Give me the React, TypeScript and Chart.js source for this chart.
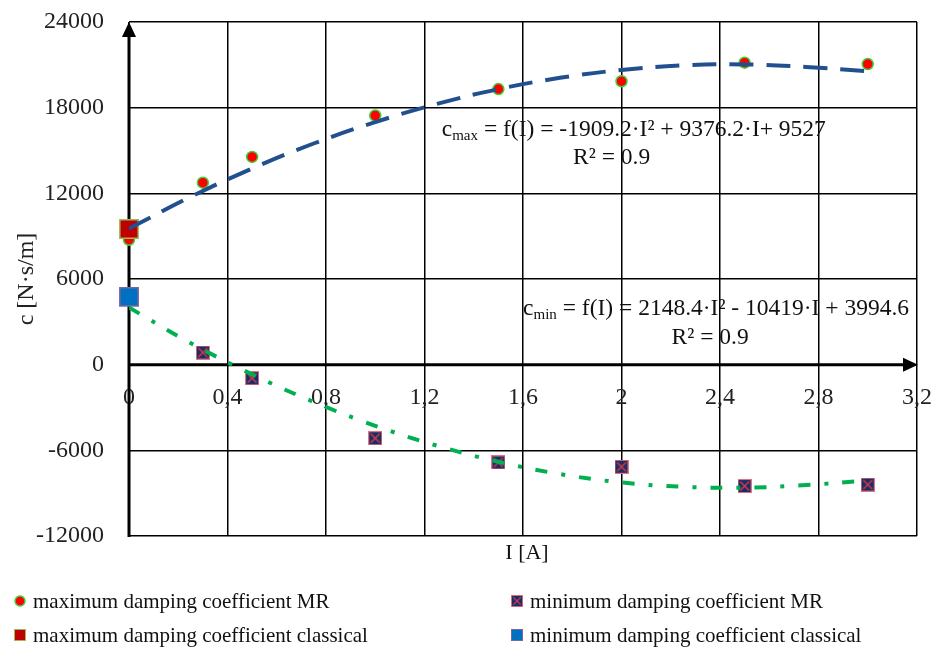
import { useEffect, useRef } from "react";
import { Chart, registerables } from "chart.js";

Chart.register(...registerables);

// ---- data ----
const currentMaxMR = [0, 0.3, 0.5, 1.0, 1.5, 2.0, 2.5, 3.0];
const maxMR = [8750, 12750, 14550, 17450, 19300, 19850, 21150, 21050];
const currentMinMR = [0.3, 0.5, 1.0, 1.5, 2.0, 2.5, 3.0];
const minMR = [850, -950, -5150, -6850, -7150, -8500, -8400];
const currentClassical = [0];
const maxClassical = [9500];
const minClassical = [4750];

const trendCurrent = [0, 0.25, 0.5, 0.75, 1.0, 1.25, 1.5, 1.75, 2.0, 2.25, 2.5, 2.75, 3.0];
const trendMax = [9530, 11750, 13740, 15490, 16990, 18260, 19300, 20090, 20640, 20960, 21030, 20850, 20550];
const trendMin = [4000, 1520, -680, -2610, -4280, -5670, -6800, -7660, -8250, -8550, -8620, -8430, -8120];

const xTickValues = [0, 0.4, 0.8, 1.2, 1.6, 2.0, 2.4, 2.8, 3.2];
const xTickLabels = ["0", "0,4", "0,8", "1,2", "1,6", "2", "2,4", "2,8", "3,2"];
const yTickValues = [-12000, -6000, 0, 6000, 12000, 18000, 24000];
const yTickLabels = ["-12000", "-6000", "0", "6000", "12000", "18000", "24000"];

const seriesLabels = [
  "maximum damping coefficient MR",
  "minimum damping coefficient MR",
  "maximum damping coefficient classical",
  "minimum damping coefficient classical",
];
const xTitle = "I [A]";
const yTitle = "c [N·s/m]";
const eqMaxText = { sub: "max", rest: " = f(I) = -1909.2·I² + 9376.2·I+ 9527", r2: "R² = 0.9" };
const eqMinText = { sub: "min", rest: " = f(I) = 2148.4·I² - 10419·I + 3994.6", r2: "R² = 0.9" };

const FONT = '"Liberation Serif", "Times New Roman", serif';

function makeXSquare(size: number): HTMLCanvasElement {
  const c = document.createElement("canvas");
  c.width = size;
  c.height = size;
  const g = c.getContext("2d")!;
  g.fillStyle = "#E5727E";
  g.fillRect(0, 0, size, size);
  g.fillStyle = "#1A2C6B";
  g.fillRect(1, 1, size - 2, size - 2);
  g.strokeStyle = "#E53B3B";
  g.lineWidth = 1.4;
  g.beginPath();
  g.moveTo(2.5, 2.5);
  g.lineTo(size - 2.5, size - 2.5);
  g.moveTo(size - 2.5, 2.5);
  g.lineTo(2.5, size - 2.5);
  g.stroke();
  return c;
}

function drawEq(ctx: CanvasRenderingContext2D, cx: number, cy: number, sub: string, rest: string) {
  const big = `23.5px ${FONT}`;
  const small = `15px ${FONT}`;
  ctx.font = big;
  const w1 = ctx.measureText("c").width;
  const w3 = ctx.measureText(rest).width;
  ctx.font = small;
  const w2 = ctx.measureText(sub).width;
  let x = cx - (w1 + w2 + w3) / 2;
  const base = cy + 8;
  ctx.textAlign = "left";
  ctx.textBaseline = "alphabetic";
  ctx.font = big;
  ctx.fillText("c", x, base);
  x += w1;
  ctx.font = small;
  ctx.fillText(sub, x, base + 4);
  x += w2;
  ctx.font = big;
  ctx.fillText(rest, x, base);
}

const overlayPlugin = {
  id: "overlay",
  beforeDatasetsDraw(chart: any) {
    const { ctx, chartArea: a, scales } = chart;
    const x0 = scales.x.getPixelForValue(0);
    const y0 = scales.y.getPixelForValue(0);
    ctx.save();
    ctx.strokeStyle = "#000";
    ctx.fillStyle = "#000";
    ctx.lineWidth = 3;
    ctx.beginPath();
    ctx.moveTo(x0, a.bottom + 1);
    ctx.lineTo(x0, a.top + 12);
    ctx.stroke();
    ctx.beginPath();
    ctx.moveTo(x0, a.top);
    ctx.lineTo(x0 - 7, a.top + 15);
    ctx.lineTo(x0 + 7, a.top + 15);
    ctx.closePath();
    ctx.fill();
    ctx.beginPath();
    ctx.moveTo(a.left, y0);
    ctx.lineTo(a.right - 12, y0);
    ctx.stroke();
    ctx.beginPath();
    ctx.moveTo(a.right + 1, y0);
    ctx.lineTo(a.right - 14, y0 - 7);
    ctx.lineTo(a.right - 14, y0 + 7);
    ctx.closePath();
    ctx.fill();
    ctx.restore();
  },
  afterDraw(chart: any) {
    const { ctx, chartArea: a, scales } = chart;
    const sx = scales.x, sy = scales.y;
    ctx.save();
    ctx.fillStyle = "#111";
    // equations
    drawEq(ctx, sx.getPixelForValue(2.05), sy.getPixelForValue(16570), eqMaxText.sub, eqMaxText.rest);
    drawEq(ctx, sx.getPixelForValue(2.384), sy.getPixelForValue(4030), eqMinText.sub, eqMinText.rest);
    ctx.font = `23.5px ${FONT}`;
    ctx.textAlign = "center";
    ctx.textBaseline = "middle";
    ctx.fillText(eqMaxText.r2, sx.getPixelForValue(1.96), sy.getPixelForValue(14470));
    ctx.fillText(eqMinText.r2, sx.getPixelForValue(2.36), sy.getPixelForValue(1860));
    // x title
    ctx.font = `22px ${FONT}`;
    ctx.fillText(xTitle, (a.left + a.right) / 2 + 4, a.bottom + 17);
    // legend
    const rows = [a.bottom + 65, a.bottom + 99];
    const cols = [20, 517];
    const ds = chart.data.datasets.filter((d: any) => d.legendIndex !== undefined);
    ctx.font = `21px ${FONT}`;
    ctx.textAlign = "left";
    ds.forEach((d: any) => {
      const i = d.legendIndex;
      const mx = cols[i % 2];
      const my = rows[Math.floor(i / 2)];
      if (d.pointStyle === "circle") {
        ctx.beginPath();
        ctx.arc(mx, my, 5, 0, Math.PI * 2);
        ctx.fillStyle = d.backgroundColor;
        ctx.fill();
        ctx.lineWidth = 1.5;
        ctx.strokeStyle = d.borderColor;
        ctx.stroke();
      } else if (d.pointStyle instanceof HTMLCanvasElement) {
        ctx.drawImage(d.pointStyle, mx - 6, my - 6, 12, 12);
      } else {
        ctx.fillStyle = d.borderColor;
        ctx.fillRect(mx - 6, my - 6, 12, 12);
        ctx.fillStyle = d.backgroundColor;
        ctx.fillRect(mx - 5, my - 5, 10, 10);
      }
      ctx.fillStyle = "#111";
      ctx.fillText(d.label, mx + 13, my + 1);
    });
    ctx.restore();
  },
};

export default function App() {
  const ref = useRef<HTMLCanvasElement | null>(null);
  useEffect(() => {
    if (!ref.current) return;
    const xSquare = makeXSquare(14);
    const toPts = (xs: number[], ys: number[]) => xs.map((x, i) => ({ x, y: ys[i] }));
    const chart = new Chart(ref.current, {
      type: "scatter",
      data: {
        datasets: [
          {
            label: "trend max",
            data: toPts(trendCurrent, trendMax),
            showLine: true,
            borderColor: "#22508F",
            borderWidth: 4,
            borderDash: [24, 13],
            pointRadius: 0,
            tension: 0.4,
            order: 0,
          },
          {
            label: "trend min",
            data: toPts(trendCurrent, trendMin),
            showLine: true,
            borderColor: "#00B050",
            borderWidth: 4,
            borderDash: [12, 14, 4, 14],
            pointRadius: 0,
            tension: 0.4,
            order: 0,
          },
          {
            label: seriesLabels[0],
            legendIndex: 0,
            data: toPts(currentMaxMR, maxMR),
            pointStyle: "circle",
            pointRadius: 5.5,
            backgroundColor: "#FF0000",
            borderColor: "#3CD23C",
            borderWidth: 1.5,
            clip: false,
            order: 3,
          } as any,
          {
            label: seriesLabels[1],
            legendIndex: 1,
            data: toPts(currentMinMR, minMR),
            pointStyle: xSquare,
            pointRadius: 7,
            backgroundColor: "#1A2C6B",
            borderColor: "#E5727E",
            clip: false,
            order: 3,
          } as any,
          {
            label: seriesLabels[2],
            legendIndex: 2,
            data: toPts(currentClassical, maxClassical),
            pointStyle: "rect",
            pointRadius: 13,
            backgroundColor: "#C00000",
            borderColor: "#9BBB59",
            borderWidth: 1.5,
            clip: false,
            order: 2,
          } as any,
          {
            label: seriesLabels[3],
            legendIndex: 3,
            data: toPts(currentClassical, minClassical),
            pointStyle: "rect",
            pointRadius: 13,
            backgroundColor: "#0070C0",
            borderColor: "#8064A2",
            borderWidth: 1.5,
            clip: false,
            order: 2,
          } as any,
        ],
      },
      options: {
        responsive: false,
        animation: false,
        devicePixelRatio: 1,
        layout: { padding: { left: 0, top: 22, right: 21, bottom: 115 } },
        plugins: { legend: { display: false }, tooltip: { enabled: false } },
        scales: {
          x: {
            type: "linear",
            position: { y: 0 } as any,
            min: 0,
            max: 3.2,
            afterBuildTicks: (s: any) => {
              s.ticks = xTickValues.map((v) => ({ value: v }));
            },
            afterFit: (s: any) => {
              s.paddingLeft = 0;
              s.paddingRight = 0;
            },
            ticks: {
              callback: (_v: any, i: number) => xTickLabels[i],
              font: { family: FONT, size: 24 },
              color: "#222",
              padding: 19,
              maxRotation: 0,
              autoSkip: false,
            },
            grid: { color: "#000", lineWidth: 1.5, drawTicks: false },
            border: { display: false },
          },
          y: {
            type: "linear",
            position: "left",
            min: -12000,
            max: 24000,
            afterBuildTicks: (s: any) => {
              s.ticks = yTickValues.map((v) => ({ value: v }));
            },
            afterFit: (s: any) => {
              s.width = 129;
              s.paddingTop = 0;
              s.paddingBottom = 0;
            },
            ticks: {
              callback: (_v: any, i: number) => yTickLabels[i],
              font: { family: FONT, size: 24 },
              color: "#222",
              padding: 25,
              autoSkip: false,
            },
            grid: { color: "#000", lineWidth: 1.5, drawTicks: false },
            border: { display: false },
            title: {
              display: true,
              text: yTitle,
              font: { family: FONT, size: 24 },
              color: "#222",
              padding: { top: 12, bottom: 0 },
            },
          },
        },
      },
      plugins: [overlayPlugin],
    });
    return () => chart.destroy();
  }, []);
  return (
    <div style={{ position: "fixed", left: 0, top: 0, width: 938, height: 651, background: "#fff" }}>
      <canvas ref={ref} width={938} height={651} />
    </div>
  );
}
